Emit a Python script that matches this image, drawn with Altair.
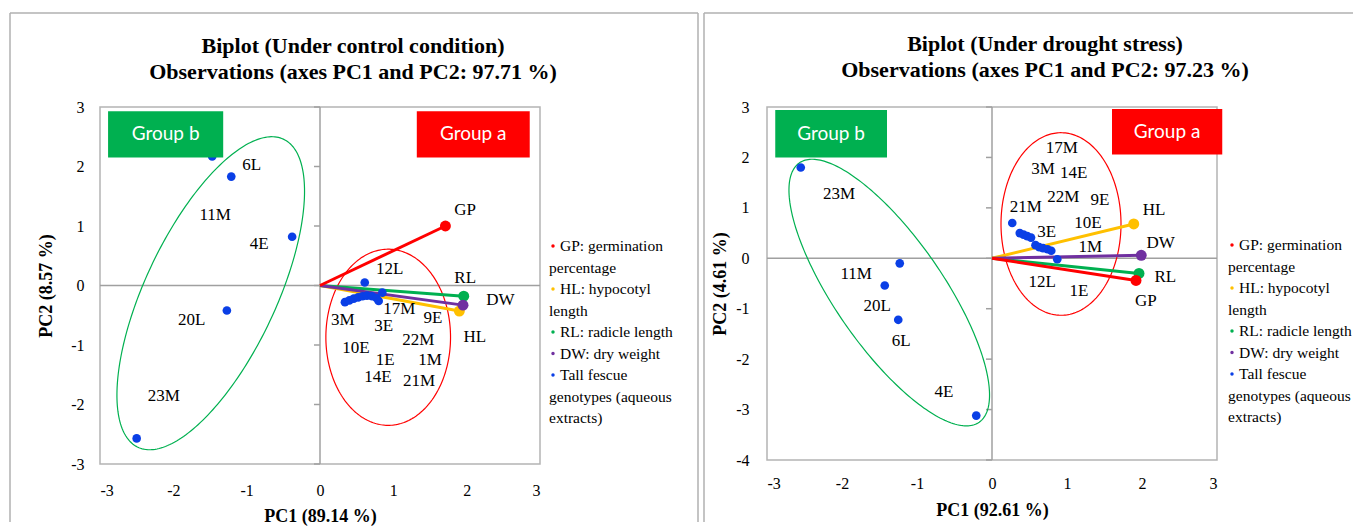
import altair as alt
import numpy as np
import pandas as pd

SERIF = "Liberation Serif"
SANS = "Lato"
AXIS_GRAY = "#A0A0A0"
FRAME_GRAY = "#B0B0B0"
BLUE = "#0A3FE6"

var_names = ["GP", "HL", "RL", "DW"]
var_colors = ["#FF0000", "#FFC000", "#00B050", "#7030A0"]
draw_order = ["HL", "RL", "DW", "GP"]

# ---------------- Under control condition ----------------
c_geno = ["6L", "11M", "4E", "20L", "23M", "12L", "3M", "10E", "14E", "3E",
          "1E", "17M", "22M", "21M", "1M", "9E"]
c_pc1 = [-1.47, -1.21, -0.38, -1.27, -2.50, 0.61, 0.34, 0.40, 0.46, 0.52,
         0.58, 0.64, 0.71, 0.77, 0.80, 0.85]
c_pc2 = [2.17, 1.83, 0.82, -0.42, -2.57, 0.05, -0.28, -0.25, -0.22, -0.20,
         -0.18, -0.17, -0.18, -0.21, -0.26, -0.12]
c_lab_pc1 = [-0.93, -1.43, -0.83, -1.75, -2.13, 0.95, 0.31, 0.49, 0.79, 0.87,
             0.89, 1.08, 1.34, 1.35, 1.50, 1.54]
c_lab_pc2 = [2.03, 1.18, 0.70, -0.58, -1.85, 0.28, -0.58, -1.05, -1.54, -0.68,
             -1.25, -0.40, -0.92, -1.60, -1.25, -0.55]
c_var_pc1 = [1.71, 1.90, 1.96, 1.95]
c_var_pc2 = [1.00, -0.43, -0.18, -0.33]
c_var_lab_pc1 = [1.98, 2.11, 1.98, 2.46]
c_var_lab_pc2 = [1.27, -0.87, 0.13, -0.25]
# ellipses: centre and two conjugate semi-axis vectors (data units)
c_ell_a = {"c": (0.93, -0.87), "u": (0.85, 0.0), "v": (0.0, 1.48)}
c_ell_b = {"c": (-1.49, -0.13), "u": (0.99, 2.59), "v": (0.81, -0.46)}
c_box_x = [-2.89, 1.32]
c_box_x2 = [-1.32, 2.86]
c_box_y = [2.15, 2.15]
c_box_y2 = [2.93, 2.93]

# ---------------- Under drought stress ----------------
d_geno = ["23M", "11M", "20L", "6L", "4E", "21M", "3E", "3M", "17M", "14E",
          "22M", "9E", "10E", "1M", "12L", "1E"]
d_pc1 = [-2.55, -1.23, -1.43, -1.25, -0.21, 0.27, 0.37, 0.42, 0.47, 0.52,
         0.58, 0.63, 0.68, 0.74, 0.79, 0.87]
d_pc2 = [1.80, -0.10, -0.54, -1.22, -3.12, 0.70, 0.50, 0.47, 0.44, 0.41,
         0.26, 0.22, 0.20, 0.18, 0.15, -0.02]
d_lab_pc1 = [-2.04, -1.81, -1.53, -1.21, -0.64, 0.45, 0.73, 0.68, 0.93, 1.09,
             0.95, 1.44, 1.28, 1.31, 0.67, 1.16]
d_lab_pc2 = [1.28, -0.32, -0.94, -1.64, -2.66, 1.02, 0.52, 1.78, 2.18, 1.70,
             1.22, 1.16, 0.70, 0.22, -0.48, -0.64]
d_var_pc1 = [1.92, 1.89, 1.96, 1.99]
d_var_pc2 = [-0.44, 0.68, -0.30, 0.06]
d_var_lab_pc1 = [2.05, 2.16, 2.31, 2.25]
d_var_lab_pc2 = [-0.84, 0.96, -0.38, 0.30]
d_ell_a = {"c": (0.92, 0.68), "u": (0.80, 0.0), "v": (0.0, 1.81)}
d_ell_b = {"c": (-1.37, -0.68), "u": (1.20, -2.57), "v": (0.59, 0.62)}
d_box_x = [-2.89, 1.60]
d_box_x2 = [-1.40, 3.07]
d_box_y = [2.00, 2.06]
d_box_y2 = [2.94, 2.96]

group_labels = ["Group b", "Group a"]
group_colors = ["#00B050", "#FF0000"]

legend_lines = [
    ("GP: germination", "#FF0000"),
    ("percentage", None),
    ("HL: hypocotyl", "#FFC000"),
    ("length", None),
    ("RL: radicle length", "#00B050"),
    ("DW: dry weight", "#7030A0"),
    ("Tall fescue", BLUE),
    ("genotypes (aqueous", None),
    ("extracts)", None),
]

ONE = pd.DataFrame({"k": [0]})


def ellipse_df(e, n=240):
    t = np.linspace(0, 2 * np.pi, n)
    return pd.DataFrame({
        "x": e["c"][0] + e["u"][0] * np.cos(t) + e["v"][0] * np.sin(t),
        "y": e["c"][1] + e["u"][1] * np.cos(t) + e["v"][1] * np.sin(t),
        "i": np.arange(n),
    })


def text_at(txt, x, y, **kw):
    return alt.Chart(pd.DataFrame({"t": [txt]})).mark_text(**kw).encode(
        x=alt.value(x), y=alt.value(y), text="t:N")


def rule_at(x, x2, y, y2):
    return alt.Chart(ONE).mark_rule(color=FRAME_GRAY, strokeWidth=1.5).encode(
        x=alt.value(x), x2=alt.value(x2), y=alt.value(y), y2=alt.value(y2))


def panel(p):
    xs = alt.Scale(domain=[-3, 3], nice=False, zero=False)
    ys = alt.Scale(domain=p["ydom"], nice=False, zero=False)
    xax = alt.Axis(values=list(range(-3, 4)), labelExpr="'' + datum.value",
                   grid=False, ticks=False, domain=False, labelFont=SERIF,
                   labelFontSize=16, labelColor="black", labelPadding=p["xlp"],
                   title=p["xtitle"], titleFont=SERIF, titleFontSize=18,
                   titleFontWeight="bold", titleColor="black",
                   titlePadding=p["xtp"])
    yax = alt.Axis(values=list(range(p["ydom"][0], p["ydom"][1] + 1)),
                   labelExpr="'' + datum.value", grid=False, ticks=False,
                   domain=False, labelFont=SERIF, labelFontSize=16,
                   labelColor="black", labelPadding=p["ylp"],
                   title=p["ytitle"], titleFont=SERIF, titleFontSize=18,
                   titleFontWeight="bold", titleColor="black",
                   titlePadding=p["ytp"])
    X = alt.X("x:Q", scale=xs, axis=xax)
    Y = alt.Y("y:Q", scale=ys, axis=yax)

    layers = []
    layers.append(alt.Chart(pd.DataFrame({"x": [0]})).mark_rule(
        color=AXIS_GRAY, strokeWidth=1.5).encode(x=X))
    layers.append(alt.Chart(pd.DataFrame({"y": [0]})).mark_rule(
        color=AXIS_GRAY, strokeWidth=1.5).encode(y=Y))
    yticks = list(range(p["ydom"][0], p["ydom"][1] + 1))
    layers.append(alt.Chart(pd.DataFrame({"x": [0] * len(yticks), "y": yticks}))
                  .mark_point(shape="M-1,0H0", size=144, filled=False,
                              color=AXIS_GRAY, strokeWidth=1.5, opacity=1)
                  .encode(x=X, y=Y))
    for e, col in ((p["ell_b"], "#00B050"), (p["ell_a"], "#FF0000")):
        layers.append(alt.Chart(ellipse_df(e)).mark_line(
            color=col, strokeWidth=1.2).encode(x=X, y=Y, order="i:Q"))

    vec = pd.DataFrame({"var": var_names, "x2": p["v1"], "y2": p["v2"],
                        "col": var_colors, "lx": p["vl1"], "ly": p["vl2"]})
    vec["o"] = vec["var"].map({v: i for i, v in enumerate(draw_order)})
    vec = vec.sort_values("o")
    vec["x"] = 0.0
    vec["y"] = 0.0
    layers.append(alt.Chart(vec).mark_rule(strokeWidth=3).encode(
        x=X, y=Y, x2="x2:Q", y2="y2:Q", color=alt.Color("col:N", scale=None)))
    layers.append(alt.Chart(vec.assign(x=vec["x2"], y=vec["y2"])).mark_circle(
        size=120, opacity=1).encode(x=X, y=Y, color=alt.Color("col:N", scale=None)))

    pts = pd.DataFrame({"g": p["geno"], "x": p["pc1"], "y": p["pc2"]})
    layers.append(alt.Chart(pts).mark_circle(size=75, color=BLUE, opacity=1)
                  .encode(x=X, y=Y))
    labs = pd.DataFrame({"g": p["geno"], "x": p["lab1"], "y": p["lab2"]})
    layers.append(alt.Chart(labs).mark_text(font=SERIF, fontSize=17,
                                            color="black")
                  .encode(x=X, y=Y, text="g:N"))
    vlabs = pd.DataFrame({"g": var_names, "x": p["vl1"], "y": p["vl2"]})
    layers.append(alt.Chart(vlabs).mark_text(font=SERIF, fontSize=17,
                                             color="black")
                  .encode(x=X, y=Y, text="g:N"))

    boxes = pd.DataFrame({"g": group_labels, "col": group_colors,
                          "x": p["bx"], "x2": p["bx2"], "y": p["by"],
                          "y2": p["by2"]})
    layers.append(alt.Chart(boxes).mark_rect(opacity=1).encode(
        x=X, x2="x2:Q", y=Y, y2="y2:Q", color=alt.Color("col:N", scale=None)))
    bt = boxes.assign(x=(boxes["x"] + boxes["x2"]) / 2,
                      y=(boxes["y"] + boxes["y2"]) / 2)
    layers.append(alt.Chart(bt).mark_text(font=SANS, fontSize=19,
                                          color="white")
                  .encode(x=X, y=Y, text="g:N"))

    # titles
    for line, ty in zip(p["titles"], p["title_y"]):
        layers.append(text_at(line, p["title_x"], ty, font=SERIF, fontSize=22,
                              fontWeight="bold", color="black",
                              align="center", baseline="middle"))
    # legend
    lx_b, lx_t, lx_c = p["leg_x"]
    for k, (txt, col) in enumerate(legend_lines):
        ly = p["leg_y0"] + k * 21.5
        if col is None:
            layers.append(text_at(txt, lx_c, ly, font=SERIF, fontSize=15.5,
                                  color="black", align="left",
                                  baseline="middle"))
        else:
            layers.append(alt.Chart(ONE).mark_circle(size=12, color=col,
                                                     opacity=1)
                          .encode(x=alt.value(lx_b), y=alt.value(ly)))
            layers.append(text_at(txt, lx_t, ly, font=SERIF, fontSize=15.5,
                                  color="black", align="left",
                                  baseline="middle"))
    # panel frame
    for fr in p["frame"]:
        layers.append(rule_at(*fr))

    return alt.layer(*layers).properties(width=p["w"], height=p["h"])


left = panel({
    "geno": c_geno, "pc1": c_pc1, "pc2": c_pc2, "lab1": c_lab_pc1,
    "lab2": c_lab_pc2, "v1": c_var_pc1, "v2": c_var_pc2,
    "vl1": c_var_lab_pc1, "vl2": c_var_lab_pc2,
    "ell_a": c_ell_a, "ell_b": c_ell_b,
    "bx": c_box_x, "bx2": c_box_x2, "by": c_box_y, "by2": c_box_y2,
    "ydom": [-3, 3], "w": 440, "h": 357,
    "xtitle": "PC1 (89.14 %)", "ytitle": "PC2 (8.57 %)",
    "xlp": 18, "xtp": 9, "ylp": 16, "ytp": 15,
    "titles": ["Biplot (Under control condition)",
               "Observations (axes PC1 and PC2: 97.71 %)"],
    "title_x": 253, "title_y": [-61, -35],
    "leg_x": (453, 460, 449), "leg_y0": 139,
    "frame": [(-90, 598, -94, -94), (-90, -90, -94, 415), (598, 598, -94, 415)],
})

right = panel({
    "geno": d_geno, "pc1": d_pc1, "pc2": d_pc2, "lab1": d_lab_pc1,
    "lab2": d_lab_pc2, "v1": d_var_pc1, "v2": d_var_pc2,
    "vl1": d_var_lab_pc1, "vl2": d_var_lab_pc2,
    "ell_a": d_ell_a, "ell_b": d_ell_b,
    "bx": d_box_x, "bx2": d_box_x2, "by": d_box_y, "by2": d_box_y2,
    "ydom": [-4, 3], "w": 450, "h": 353,
    "xtitle": "PC1 (92.61 %)", "ytitle": "PC2 (4.61 %)",
    "xlp": 15, "xtp": 10, "ylp": 18, "ytp": 6,
    "titles": ["Biplot (Under drought stress)",
               "Observations (axes PC1 and PC2: 97.23 %)"],
    "title_x": 278, "title_y": [-63, -37],
    "leg_x": (465, 472, 461), "leg_y0": 138,
    "frame": [(-63, 586, -94, -94), (-63, -63, -94, 415)],
})

chart = alt.hconcat(left, right, spacing=227, bounds="flush").properties(
    padding={"left": 0, "top": 3, "right": 0, "bottom": 0}
).configure_view(stroke="#B4B4B4", strokeWidth=1.5)

chart.save("out.html", embed_options={"renderer": "svg", "actions": False})
